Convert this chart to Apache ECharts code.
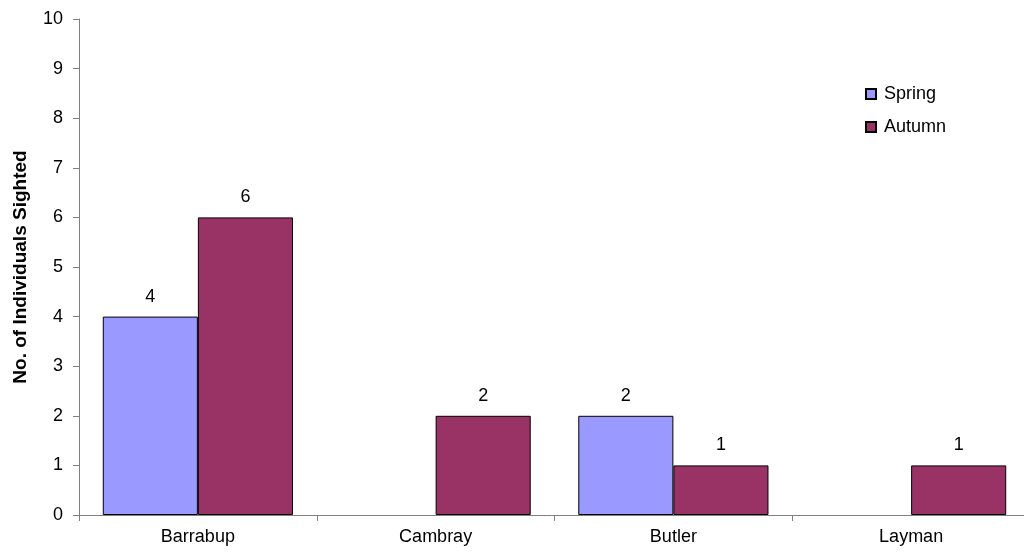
<!DOCTYPE html>
<html>
<head>
<meta charset="utf-8">
<script src="https://cdn.jsdelivr.net/npm/echarts@6/dist/echarts.min.js"></script>
<style>
  html, body { margin: 0; padding: 0; background: #fff; }
  #chart { width: 1024px; height: 555px; }
</style>
</head>
<body>
<div id="chart"></div>
<script>
// Sightings per site, by season
const sites = ['Barrabup', 'Cambray', 'Butler', 'Layman'];
const spring = [4, 0, 2, 0];
const autumn = [6, 2, 1, 1];
const yTicks = { min: 0, max: 10, interval: 1 };

const font = 'Liberation Sans, Arial, sans-serif';

const labelCfg = {
  show: true,
  position: 'top',
  distance: 11,
  color: '#000',
  fontFamily: font,
  fontSize: 18,
  formatter: p => (p.value === 0 ? '' : String(p.value))
};

// zero-height bars get no outline so nothing is drawn for them
const toItems = arr => arr.map(v => (v === 0 ? { value: v, itemStyle: { borderWidth: 0 } } : v));

const chart = echarts.init(document.getElementById('chart'));
chart.setOption({
  animation: false,
  backgroundColor: '#fff',
  grid: {
    left: 79, width: 951, top: 19, bottom: 40,
    containLabel: false,
    outerBoundsMode: 'none'
  },
  legend: {
    orient: 'vertical',
    left: 860,
    top: 80,
    itemWidth: 10,
    itemHeight: 10,
    itemGap: 15,
    icon: 'rect',
    textStyle: { fontFamily: font, fontSize: 18, color: '#000', padding: [0, 0, 0, 3] },
    data: ['Spring', 'Autumn']
  },
  xAxis: {
    type: 'category',
    data: sites,
    axisLine: { lineStyle: { color: '#808080', width: 1 } },
    axisTick: { show: true, alignWithLabel: false, length: 6, inside: false, lineStyle: { color: '#808080' } },
    axisLabel: { color: '#000', fontFamily: font, fontSize: 18, margin: 13 },
    splitLine: { show: false }
  },
  yAxis: {
    type: 'value',
    min: yTicks.min,
    max: yTicks.max,
    interval: yTicks.interval,
    name: 'No. of Individuals Sighted',
    nameLocation: 'middle',
    nameGap: 49,
    nameRotate: 90,
    nameTextStyle: { fontFamily: font, fontSize: 19, fontWeight: 'bold', color: '#000' },
    axisLine: { show: true, lineStyle: { color: '#808080', width: 1 } },
    axisTick: { show: true, length: 6, lineStyle: { color: '#808080' } },
    axisLabel: { color: '#000', fontFamily: font, fontSize: 18, margin: 16 },
    splitLine: { show: false }
  },
  series: [
    {
      name: 'Spring',
      type: 'bar',
      data: toItems(spring),
      barGap: '0%',
      barCategoryGap: '20%',
      itemStyle: { color: '#9999FF', borderColor: '#000', borderWidth: 1 },
      label: labelCfg
    },
    {
      name: 'Autumn',
      type: 'bar',
      data: toItems(autumn),
      barGap: '0%',
      barCategoryGap: '20%',
      itemStyle: { color: '#993366', borderColor: '#000', borderWidth: 1 },
      label: labelCfg
    }
  ]
});
</script>
</body>
</html>
